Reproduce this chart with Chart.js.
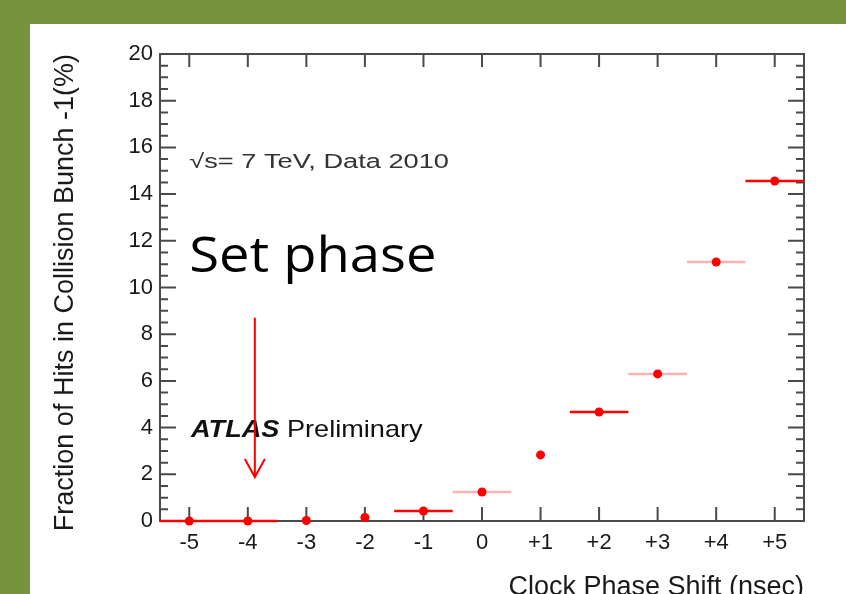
<!DOCTYPE html>
<html>
<head>
<meta charset="utf-8">
<script src="https://cdn.jsdelivr.net/npm/chart.js@4.4.1/dist/chart.umd.min.js"></script>
<style>
    html, body { margin: 0; padding: 0; }
    body { width: 846px; height: 594px; background: #76923C; overflow: hidden; position: relative; }
    #panel { position: absolute; left: 30px; top: 24px; width: 816px; height: 570px; background: #fff; overflow: hidden; }
    #chart { position: absolute; left: 0; top: 0; }
</style>
</head>
<body>
<div id="panel"><canvas id="chart" width="816" height="580"></canvas></div>
<script>
"use strict";

// clock phase shift (nsec) and fraction of hits in bunch -1 (%)
const phaseShift = [-5, -4, -3, -2, -1, 0, 1, 2, 3, 4, 5];
const hitFraction = [0.0, 0.0, 0.02, 0.15, 0.43, 1.24, 2.83, 4.67, 6.3, 11.09, 14.56];
const phaseError = [0.5, 0.5, 0, 0, 0.5, 0.5, 0, 0.5, 0.5, 0.5, 0.5];

const xTickValues = [-5, -4, -3, -2, -1, 0, 1, 2, 3, 4, 5];
const yTickValues = [0, 2, 4, 6, 8, 10, 12, 14, 16, 18, 20];

// error bars in the scan: some are drawn solid, some faded
const barColors = ['#ff0000', '#ff0000', null, null, '#ff0000', 'rgba(255,0,0,0.3)', null,
                   '#ff0000', 'rgba(255,0,0,0.3)', 'rgba(255,0,0,0.3)', '#ff0000'];

const FONT = '"Liberation Sans", Arial, Helvetica, sans-serif';

function errorBarDatasets() {
    const sets = [];
    phaseShift.forEach((x, i) => {
        if (!barColors[i] || !phaseError[i]) {
            return;
        }
        sets.push({
            type: 'line',
            data: [{x: x - phaseError[i], y: hitFraction[i]}, {x: x + phaseError[i], y: hitFraction[i]}],
            borderColor: barColors[i],
            borderWidth: 2.5,
            pointRadius: 0,
            showLine: true,
            clip: false,
            order: 2
        });
    });
    return sets;
}

// frame and inward ticks, drawn under the markers
const framePlugin = {
    id: 'frame',
    beforeDatasetsDraw(chart) {
        const {ctx, chartArea: a, scales: {x, y}} = chart;
        ctx.save();
        ctx.strokeStyle = '#4a4a4a';
        ctx.lineWidth = 2;
        ctx.strokeRect(a.left, a.top, a.right - a.left, a.bottom - a.top);

        ctx.beginPath();
        xTickValues.forEach(v => {
            const px = x.getPixelForValue(v);
            ctx.moveTo(px, a.bottom);
            ctx.lineTo(px, a.bottom - 14);
            ctx.moveTo(px, a.top);
            ctx.lineTo(px, a.top + 13);
        });
        for (let v = 0; v <= 20; v += 0.5) {
            const py = y.getPixelForValue(v);
            const len = (v % 2 === 0) ? 16 : 8;
            ctx.moveTo(a.left, py);
            ctx.lineTo(a.left + len, py);
            ctx.moveTo(a.right, py);
            ctx.lineTo(a.right - len, py);
        }
        ctx.stroke();
        ctx.restore();
    }
};

// labels and the arrow on top
const notesPlugin = {
    id: 'notes',
    afterDatasetsDraw(chart) {
        const {ctx, scales: {x, y}} = chart;
        ctx.save();

        // sqrt(s) label
        ctx.fillStyle = '#333';
        ctx.font = '20px ' + FONT;
        ctx.textBaseline = 'middle';
        ctx.textAlign = 'left';
        ctx.save();
        ctx.translate(x.getPixelForValue(-5.0), y.getPixelForValue(15.37));
        ctx.scale(1.36, 1);
        ctx.fillText('\u221As= 7 TeV, Data 2010', 0, 0);
        ctx.restore();

        // ATLAS Preliminary
        ctx.save();
        ctx.fillStyle = '#111';
        ctx.translate(x.getPixelForValue(-4.97), y.getPixelForValue(3.9));
        ctx.scale(1.13, 1);
        ctx.font = 'italic bold 24px ' + FONT;
        ctx.fillText('ATLAS', 0, 0);
        const w = ctx.measureText('ATLAS ').width;
        ctx.font = '24px ' + FONT;
        ctx.fillText('Preliminary', w, 0);
        ctx.restore();

        // big overlay text
        ctx.save();
        ctx.fillStyle = '#000';
        ctx.font = '49px "Open Sans", "Noto Sans", sans-serif';
        ctx.textBaseline = 'alphabetic';
        ctx.translate(x.getPixelForValue(-5.0), y.getPixelForValue(10.66));
        ctx.scale(1.11, 1);
        ctx.fillText('Set phase', 0, 0);
        ctx.restore();

        // arrow pointing at the chosen phase
        const ax = x.getPixelForValue(-3.88);
        const top = y.getPixelForValue(8.7);
        const tip = y.getPixelForValue(1.88);
        ctx.strokeStyle = '#ff0000';
        ctx.lineWidth = 2;
        ctx.beginPath();
        ctx.moveTo(ax, top);
        ctx.lineTo(ax, tip);
        ctx.moveTo(ax - 10, tip - 18);
        ctx.lineTo(ax, tip);
        ctx.lineTo(ax + 10, tip - 18);
        ctx.stroke();

        ctx.restore();
    }
};

const chart = new Chart(document.getElementById('chart'), {
    type: 'scatter',
    data: {
        datasets: [{
            data: phaseShift.map((x, i) => ({x: x, y: hitFraction[i]})),
            backgroundColor: '#ff0000',
            borderWidth: 0,
            pointRadius: 4.5,
            pointHoverRadius: 4.5,
            clip: false,
            order: 1
        }].concat(errorBarDatasets())
    },
    options: {
        responsive: false,
        animation: false,
        devicePixelRatio: 1,
        layout: {padding: {top: 30, right: 42, left: 0, bottom: 0}},
        plugins: {
            legend: {display: false},
            tooltip: {enabled: false}
        },
        scales: {
            x: {
                type: 'linear',
                min: -5.5,
                max: 5.5,
                afterBuildTicks: scale => { scale.ticks = xTickValues.map(v => ({value: v})); },
                afterFit: scale => { scale.height = 83; },
                grid: {display: false, drawTicks: false},
                border: {display: false},
                ticks: {
                    padding: 9,
                    color: '#1a1a1a',
                    font: {family: FONT, size: 22},
                    callback: v => (v > 0 ? '+' + v : '' + v)
                },
                title: {
                    display: true,
                    text: 'Clock Phase Shift (nsec)',
                    align: 'end',
                    color: '#1a1a1a',
                    font: {family: FONT, size: 27},
                    padding: {top: 4, bottom: 0}
                }
            },
            y: {
                type: 'linear',
                min: 0,
                max: 20,
                afterBuildTicks: scale => { scale.ticks = yTickValues.map(v => ({value: v})); },
                afterFit: scale => { scale.width = 130; },
                grid: {display: false, drawTicks: false},
                border: {display: false},
                ticks: {
                    padding: 7,
                    color: '#1a1a1a',
                    font: {family: FONT, size: 22}
                },
                title: {
                    display: true,
                    text: 'Fraction of Hits in Collision Bunch -1(%)',
                    align: 'end',
                    color: '#1a1a1a',
                    font: {family: FONT, size: 27},
                    padding: {top: 19, bottom: 4}
                }
            }
        }
    },
    plugins: [framePlugin, notesPlugin]
});
</script>
</body>
</html>
